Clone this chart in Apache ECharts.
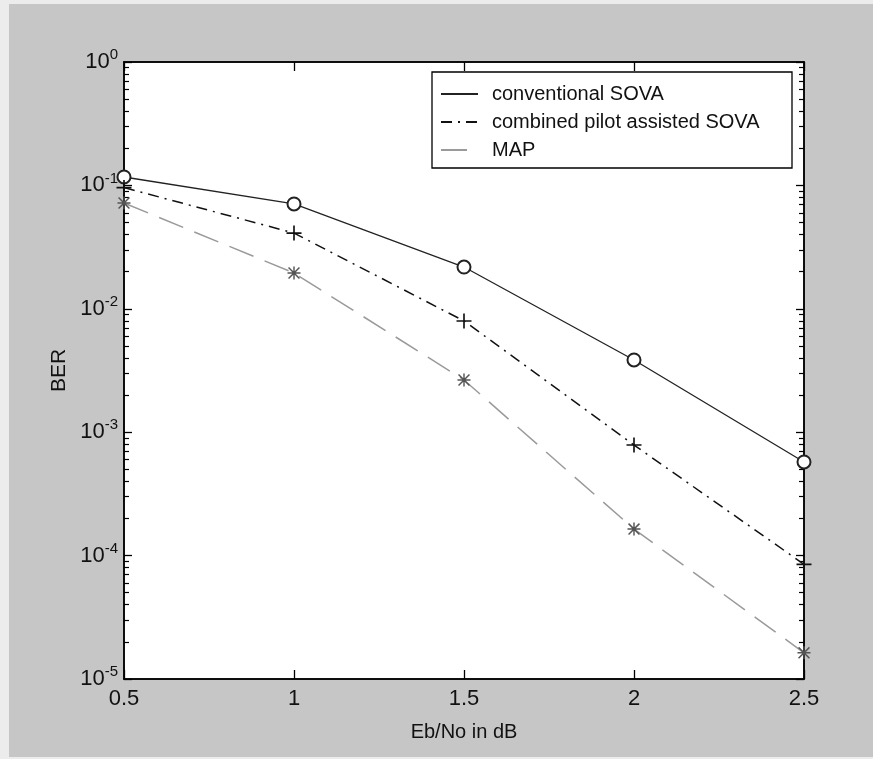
<!DOCTYPE html>
<html><head><meta charset="utf-8">
<script src="https://cdn.jsdelivr.net/npm/echarts@6/dist/echarts.min.js"></script>
<style>html,body{margin:0;padding:0;background:#fff}#c{width:873px;height:759px}</style>
</head><body><div id="c"></div>
<script>
const ebno = [0.5, 1, 1.5, 2, 2.5];
const conventionalSOVA = [0.117, 0.0707, 0.0218, 0.00385, 0.000574];
const combinedSOVA = [0.096, 0.0411, 0.00797, 0.000787, 0.000085];
const mapBER = [0.072, 0.0195, 0.00265, 0.000164, 0.0000163];
const xTicks = [0.5, 1, 1.5, 2, 2.5];
const yMajor = [1e-5, 1e-4, 1e-3, 1e-2, 1e-1, 1];
const seriesNames = ['conventional SOVA', 'combined pilot assisted SOVA', 'MAP'];

const yMinor = [];
for (let e = -5; e < 0; e++) for (let k = 2; k <= 9; k++) yMinor.push(+(k * Math.pow(10, e)).toPrecision(3));

const FONT = '"Liberation Sans", Arial, sans-serif';
const PLUS = 'path://M4.45,0h1.1v10h-1.1zM0,4.45h10v1.1h-10z';
const STAR = 'path://M4.45,0h1.1v10h-1.1zM0,4.45h10v1.1h-10zM1.2,0.4L9.6,8.8L8.8,9.6L0.4,1.2zM8.8,0.4L9.6,1.2L1.2,9.6L0.4,8.8z';

const pair = (xs, ys) => xs.map((x, i) => [x, ys[i]]);

const chart = echarts.init(document.getElementById('c'), null, {renderer: 'canvas'});

const yBase = {type: 'log', logBase: 10, min: 1e-5, max: 1, gridIndex: 0, splitLine: {show: false}};
const option = {
  backgroundColor: '#ececec',
  animation: false,
  graphic: [
    {type: 'rect', shape: {x: 9, y: 4, width: 864, height: 753}, style: {fill: '#c6c6c6'}, z: -10, silent: true},
    {type: 'rect', shape: {x: 432, y: 72, width: 360, height: 96}, style: {fill: '#fff', stroke: '#000', lineWidth: 1.3}, z: 10, silent: true}
  ],
  grid: {left: 124, right: 69, top: 62, bottom: 80, show: true, backgroundColor: '#fff', borderColor: '#000', borderWidth: 1.5},
  legend: {
    data: seriesNames, orient: 'vertical', left: 432, top: 72, z: 20,
    padding: [12, 10, 10, 8], itemGap: 8, itemWidth: 37, itemHeight: 14,
    itemStyle: {opacity: 0},
    textStyle: {fontFamily: FONT, fontSize: 20, color: '#111', padding: [0, 0, 0, 9]}
  },
  xAxis: [
    {type: 'value', min: 0.5, max: 2.5, interval: 0.5, position: 'bottom',
     name: 'Eb/No in dB', nameLocation: 'middle', nameGap: 43,
     nameTextStyle: {fontFamily: FONT, fontSize: 20, color: '#111'},
     axisLine: {show: true, lineStyle: {color: '#000', width: 1.5}},
     axisTick: {show: true, inside: true, length: 9, lineStyle: {color: '#000', width: 1.3}},
     axisLabel: {fontFamily: FONT, fontSize: 22, color: '#111', margin: 9, formatter: v => String(v)},
     splitLine: {show: false}},
    {type: 'value', min: 0.5, max: 2.5, interval: 0.5, position: 'top',
     axisLine: {show: true, lineStyle: {color: '#000', width: 1.5}},
     axisTick: {show: true, inside: true, length: 9, lineStyle: {color: '#000', width: 1.3}},
     axisLabel: {show: false}, splitLine: {show: false}}
  ],
  yAxis: [
    Object.assign({}, yBase, {position: 'left',
      name: 'BER', nameLocation: 'middle', nameGap: 52, nameRotate: 90,
      nameTextStyle: {fontFamily: FONT, fontSize: 21, color: '#111'},
      axisLine: {show: true, lineStyle: {color: '#000', width: 1.5}},
      axisTick: {show: true, inside: true, length: 8, customValues: yMajor, lineStyle: {color: '#000', width: 1.3}},
      axisLabel: {show: true, margin: 6, customValues: yMajor,
        formatter: v => '{b|10}{s|' + Math.round(Math.log10(v)) + '}',
        rich: {b: {fontFamily: FONT, fontSize: 22, color: '#111'},
               s: {fontFamily: FONT, fontSize: 15, color: '#111', padding: [0, 0, 14, 0]}}}}),
    Object.assign({}, yBase, {position: 'left',
      axisLine: {show: false},
      axisTick: {show: true, inside: true, length: 5, customValues: yMinor, lineStyle: {color: '#000', width: 1.2}},
      axisLabel: {show: false}}),
    Object.assign({}, yBase, {position: 'right',
      axisLine: {show: true, lineStyle: {color: '#000', width: 1.5}},
      axisTick: {show: true, inside: true, length: 8, customValues: yMajor, lineStyle: {color: '#000', width: 1.3}},
      axisLabel: {show: false}}),
    Object.assign({}, yBase, {position: 'right',
      axisLine: {show: false},
      axisTick: {show: true, inside: true, length: 5, customValues: yMinor, lineStyle: {color: '#000', width: 1.2}},
      axisLabel: {show: false}})
  ],
  series: [
    {name: seriesNames[0], type: 'line', data: pair(ebno, conventionalSOVA),
     symbol: 'emptyCircle', symbolSize: 13, showSymbol: true,
     lineStyle: {color: '#222', width: 1.3, type: 'solid'},
     itemStyle: {color: '#222', borderWidth: 1.3}, z: 3},
    {name: seriesNames[1], type: 'line', data: pair(ebno, combinedSOVA),
     symbol: PLUS, symbolSize: 15, showSymbol: true,
     lineStyle: {color: '#111', width: 1.5, type: [11, 6, 2, 6]},
     itemStyle: {color: '#111'}, z: 3},
    {name: seriesNames[2], type: 'line', data: pair(ebno, mapBER),
     symbol: STAR, symbolSize: 13, showSymbol: true,
     lineStyle: {color: '#9a9a9a', width: 1.5, type: [26, 12]},
     itemStyle: {color: '#555'}, z: 3}
  ]
};
chart.setOption(option);
</script>
</body></html>
